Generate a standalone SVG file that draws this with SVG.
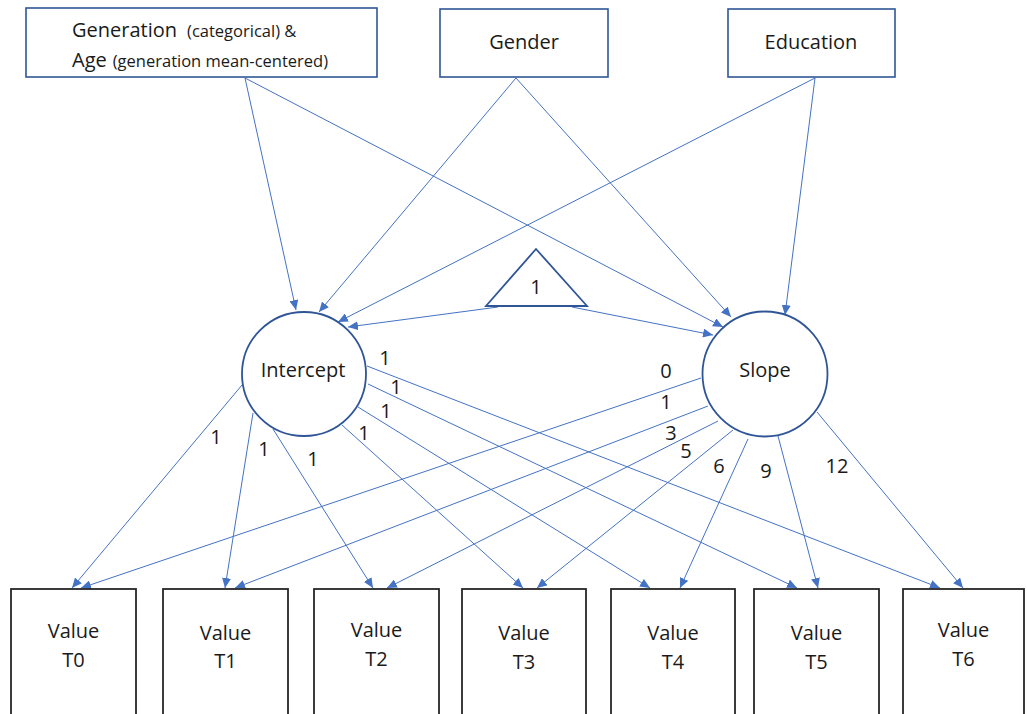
<svg xmlns="http://www.w3.org/2000/svg" width="1027" height="714" viewBox="0 0 1027 714">
<style>
text{font-family:"Open Sans","Noto Sans","Liberation Sans",sans-serif;fill:#1a1a1a}
.top{fill:#fff;stroke:#2F5597;stroke-width:1.6}
.lat{fill:#fff;stroke:#2F5597;stroke-width:1.8}
.obs{fill:#fff;stroke:#262626;stroke-width:1.8}
.c{stroke:#4472C4;stroke-width:1;fill:none;marker-end:url(#ah)}
.t20{font-size:20px}
.t15{font-size:16.5px}
.lbl{font-size:20px;text-anchor:middle}
.mid{text-anchor:middle}
</style>
<defs>
<marker id="ah" markerUnits="userSpaceOnUse" markerWidth="11" markerHeight="9" refX="10" refY="4.5" orient="auto">
<path d="M0,0 L10,4.5 L0,9 z" fill="#4472C4"/>
</marker>
</defs>
<rect width="1027" height="714" fill="#fff"/>
<g id="connectors">
<line class="c" x1="245" y1="78" x2="296" y2="310"/>
<line class="c" x1="245" y1="78" x2="723" y2="327"/>
<line class="c" x1="516" y1="78" x2="319" y2="312"/>
<line class="c" x1="516" y1="78" x2="731" y2="317"/>
<line class="c" x1="815" y1="78" x2="338" y2="322"/>
<line class="c" x1="815" y1="78" x2="785" y2="315"/>
<line class="c" x1="498" y1="307" x2="348" y2="327"/>
<line class="c" x1="572" y1="307" x2="713" y2="335"/>
<line class="c" x1="242" y1="385" x2="72" y2="588"/>
<line class="c" x1="253" y1="413" x2="225" y2="588"/>
<line class="c" x1="273" y1="429" x2="373" y2="588"/>
<line class="c" x1="342" y1="425" x2="523" y2="588"/>
<line class="c" x1="358" y1="407" x2="650" y2="588"/>
<line class="c" x1="368" y1="384" x2="797" y2="588"/>
<line class="c" x1="367" y1="366" x2="940" y2="588"/>
<line class="c" x1="701" y1="378" x2="81" y2="588"/>
<line class="c" x1="708" y1="406" x2="235" y2="588"/>
<line class="c" x1="718" y1="421" x2="387" y2="588"/>
<line class="c" x1="733" y1="430" x2="537" y2="588"/>
<line class="c" x1="748" y1="439" x2="680" y2="588"/>
<line class="c" x1="778" y1="436" x2="818" y2="588"/>
<line class="c" x1="817" y1="412" x2="963" y2="588"/>
<g id="labels">
<text class="lbl" x="385" y="365">1</text>
<text class="lbl" x="396" y="394">1</text>
<text class="lbl" x="386" y="418">1</text>
<text class="lbl" x="364" y="440">1</text>
<text class="lbl" x="216" y="444">1</text>
<text class="lbl" x="264" y="456">1</text>
<text class="lbl" x="313" y="466">1</text>
<text class="lbl" x="666" y="378">0</text>
<text class="lbl" x="666" y="409">1</text>
<text class="lbl" x="671" y="440">3</text>
<text class="lbl" x="686" y="458">5</text>
<text class="lbl" x="719" y="473">6</text>
<text class="lbl" x="766" y="478">9</text>
<text class="lbl" x="837" y="473">12</text>
</g>
</g>
<g id="gen-age">
<rect class="top" x="26" y="8" width="351" height="69"/>
<text x="72" y="37"><tspan class="t20">Generation</tspan><tspan class="t15" dx="10">(categorical) &amp;</tspan></text>
<text x="72" y="67"><tspan class="t20">Age</tspan><tspan class="t15" dx="6">(generation mean-centered)</tspan></text>
</g>
<g id="gender">
<rect class="top" x="440" y="9" width="168" height="68"/>
<text class="t20 mid" x="524" y="49">Gender</text>
</g>
<g id="education">
<rect class="top" x="728" y="9" width="167" height="68"/>
<text class="t20 mid" x="811" y="49">Education</text>
</g>
<g id="constant">
<polygon class="lat" points="536,249 486,306 587,306"/>
<text class="t20 mid" x="536" y="294">1</text>
</g>
<g id="intercept">
<circle class="lat" cx="304" cy="374" r="62"/>
<text class="t20 mid" x="303" y="377">Intercept</text>
</g>
<g id="slope">
<circle class="lat" cx="765" cy="374" r="62.5"/>
<text class="t20 mid" x="765" y="377">Slope</text>
</g>
<g id="t0"><rect class="obs" x="11" y="589" width="125" height="140"/><text class="t20 mid" x="73.5" y="638">Value</text><text class="t20 mid" x="73.5" y="667">T0</text></g>
<g id="t1"><rect class="obs" x="163" y="589" width="125" height="140"/><text class="t20 mid" x="225.5" y="640">Value</text><text class="t20 mid" x="225.5" y="668">T1</text></g>
<g id="t2"><rect class="obs" x="314" y="589" width="125" height="140"/><text class="t20 mid" x="376.5" y="637">Value</text><text class="t20 mid" x="376.5" y="666">T2</text></g>
<g id="t3"><rect class="obs" x="462" y="589" width="124" height="140"/><text class="t20 mid" x="524" y="640">Value</text><text class="t20 mid" x="524" y="669">T3</text></g>
<g id="t4"><rect class="obs" x="611" y="589" width="124" height="140"/><text class="t20 mid" x="673" y="640">Value</text><text class="t20 mid" x="673" y="669">T4</text></g>
<g id="t5"><rect class="obs" x="754" y="589" width="125" height="140"/><text class="t20 mid" x="816.5" y="640">Value</text><text class="t20 mid" x="816.5" y="669">T5</text></g>
<g id="t6"><rect class="obs" x="903" y="589" width="121" height="140"/><text class="t20 mid" x="963.5" y="637">Value</text><text class="t20 mid" x="963.5" y="666">T6</text></g>
</svg>
